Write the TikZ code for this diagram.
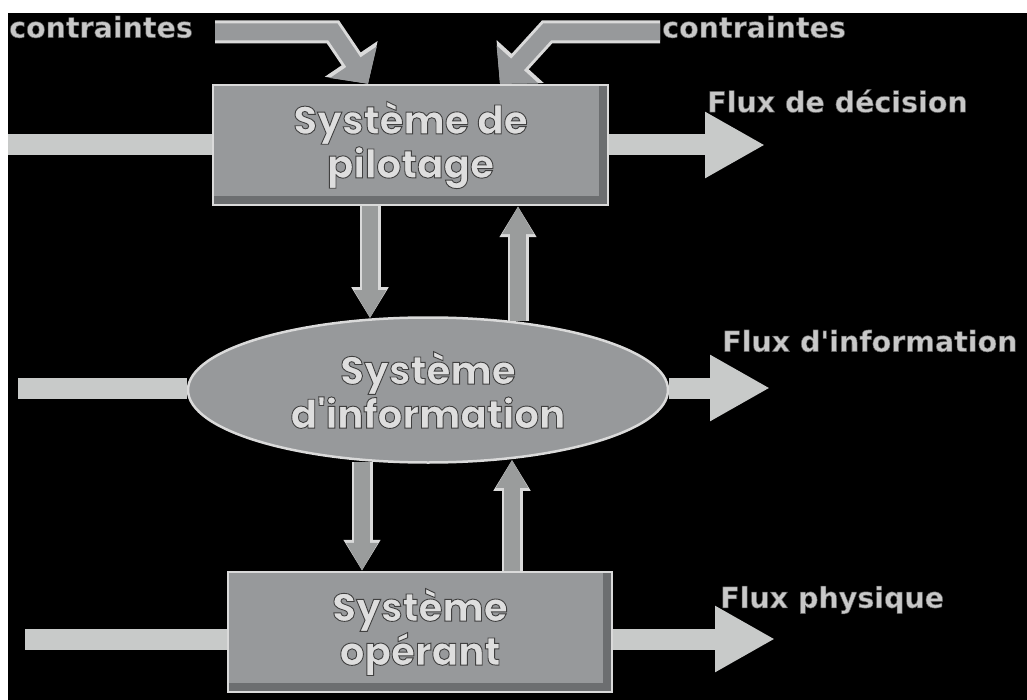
\documentclass[tikz,border=0pt]{standalone}
\usepackage{fontspec}
\setmainfont{Poppins}
\newfontfamily\labelfont{DejaVu Sans}
\usetikzlibrary{arrows.meta,shapes.geometric,calc}

\definecolor{boxgray}{HTML}{97999B}
\definecolor{boxdark}{HTML}{6C6E70}
\definecolor{rim}{HTML}{DADADA}
\definecolor{flow}{HTML}{C8CAC9}
\definecolor{vgray}{HTML}{9A9C9C}
\definecolor{txt}{HTML}{DEDEDE}
\definecolor{lbl}{HTML}{C8C8C8}

% light glyphs with a dark outline (fill + stroke text rendering)
\newcommand\emb[1]{\textcolor{txt}{\special{pdf:code 2 Tr 0.9 w 0.25 0.25 0.25 RG}#1\special{pdf:code 0 Tr}}}
\newcommand\lblout[1]{\special{pdf:code 2 Tr 0.5 w 0.35 0.35 0.35 RG}#1\special{pdf:code 0 Tr}}

\tikzset{
  sysbox/.style={rectangle, fill=boxgray, draw=rim, line width=2.5pt, inner sep=0pt,
    align=center, font=\bfseries\fontsize{39}{44}\selectfont,
    path picture={\fill[boxdark] ([xshift=-9pt]path picture bounding box.north east)
        rectangle (path picture bounding box.south east);
      \fill[boxdark] (path picture bounding box.south west)
        rectangle ([yshift=9pt]path picture bounding box.south east);}},
  sysell/.style={ellipse, fill=boxgray, draw=rim, line width=2.5pt, inner sep=0pt,
    align=center, font=\bfseries\fontsize{39}{44}\selectfont},
  flowbar/.style={draw=flow, line width=21pt},
  flowout/.style={flowbar, -{Triangle[length=60pt,width=62pt]}},
  vrim/.style={draw=rim, line width=21pt, -{Triangle[length=31pt,width=35pt]}},
  vcore/.style={draw=vgray, line width=16pt, -{Triangle[length=28pt,width=30pt]}},
  crim/.style={draw=rim, line width=23pt, line join=miter, -{Triangle[length=30pt,width=62pt]}},
  ccore/.style={draw=boxgray, line width=17pt, line join=miter, -{Triangle[length=26pt,width=55pt]}},
  flowlabel/.style={text=lbl, font=\labelfont\bfseries\fontsize{28.5}{30}\selectfont, inner sep=0pt},
}

\begin{document}
\begin{tikzpicture}[x=1pt,y=-1pt]
  \useasboundingbox (0,0) rectangle (1027,700);
  \fill[white] (0,0) rectangle (1027,700);
  \fill[black] (8,13) rectangle (1027,700);

  % the three levels of the system
  \node[sysbox, minimum width=395pt, minimum height=120pt] (p1) at (410.5,145)
    {\emb{Système de}\\\emb{pilotage}};
  \node[sysell, minimum width=480pt, minimum height=145pt] (ie) at (428,390)
    {\emb{Système}\\\emb{d\textquotesingle information}};
  \node[sysbox, minimum width=384pt, minimum height=120pt] (o) at (420,632)
    {\emb{Système}\\\emb{opérant}};

  % free ends of the horizontal flows
  \coordinate (in1) at (8,145);
  \coordinate (out1) at (765,145);
  \coordinate (in2) at (18,388);
  \coordinate (out2) at (770,388);
  \coordinate (in3) at (25,639);
  \coordinate (out3) at (775,639);

  \draw[flowbar] (in1) -- (in1 -| p1.west);
  \draw[flowout] (p1.east |- out1) -- (out1);
  \draw[flowbar] (in2) -- (in2 -| ie.west);
  \draw[flowout] (ie.east |- out2) -- (out2);
  \draw[flowbar] (in3) -- (in3 -| o.west);
  \draw[flowout] (o.east |- out3) -- (out3);

  % vertical exchanges between the levels
  \coordinate (xd1) at (370,0);
  \coordinate (xu1) at (518,0);
  \coordinate (xd2) at (362,0);
  \coordinate (xu2) at (512,0);
  \foreach \s in {vrim,vcore}{
    \draw[\s] (p1.south -| xd1) -- ($(ie.north -| xd1)+(0,2)$);
    \draw[\s] ($(ie.north -| xu1)+(0,5)$) -- (p1.south -| xu1);
    \draw[\s] ($(ie.south -| xd2)+(0,-2)$) -- (o.north -| xd2);
    \draw[\s] (o.north -| xu2) -- ($(ie.south -| xu2)+(0,-4)$);
  }

  % constraints entering the steering system
  \coordinate (c1s) at (215,32);
  \coordinate (c1b) at (333,32);
  \coordinate (c1t) at (368,0);
  \coordinate (c2s) at (660,32);
  \coordinate (c2b) at (547,32);
  \coordinate (c2t) at (500,0);
  \foreach \s in {crim,ccore}{
    \draw[\s] (c1s) -- (c1b) -- (p1.north -| c1t);
    \draw[\s] (c2s) -- (c2b) -- (p1.north -| c2t);
  }

  % labels
  \node[flowlabel] (lc1) at (101,27) {\lblout{contraintes}};
  \node[flowlabel, anchor=west] (lc2) at (662,27) {\lblout{contraintes}};
  \node[flowlabel, anchor=west] (l1) at (707,101) {\lblout{Flux de décision}};
  \node[flowlabel, anchor=west] (l2) at (722,341) {\lblout{Flux d\textquotesingle information}};
  \node[flowlabel, anchor=west] (l3) at (720,600) {\lblout{Flux physique}};
\end{tikzpicture}
\end{document}
